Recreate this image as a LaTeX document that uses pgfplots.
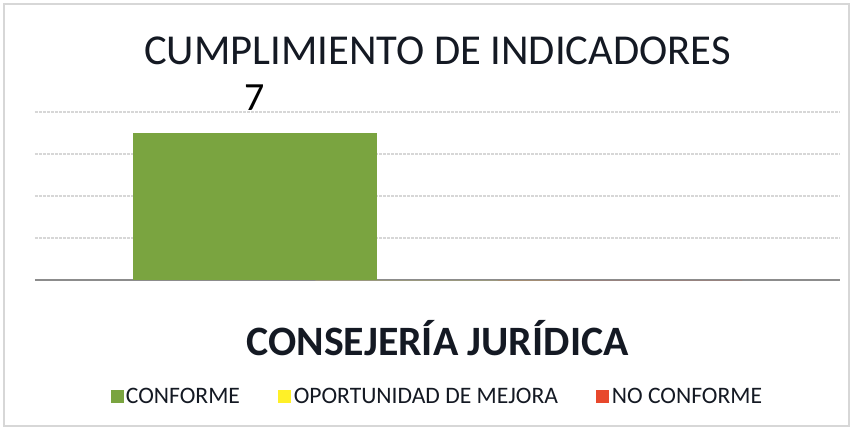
\documentclass[border=0pt]{standalone}
\usepackage{pgfplots}
\pgfplotsset{compat=1.18}
\usepackage{fontspec}
\setmainfont{Carlito}
\definecolor{cgreen}{RGB}{122,164,64}
\definecolor{cyellow}{RGB}{255,240,40}
\definecolor{cred}{RGB}{232,72,44}
\definecolor{cgrid}{RGB}{215,215,215}
\definecolor{cbase}{RGB}{140,140,140}
\definecolor{ctext}{RGB}{20,25,35}
\begin{document}
\begin{tikzpicture}
\useasboundingbox (0,0) rectangle (426pt,215pt);
\draw[cgrid, line width=0.6pt] (2pt,2pt) rectangle (424.5pt,213pt);
\begin{axis}[
  at={(17.5pt,75pt)}, anchor=south west,
  scale only axis, width=402.5pt, height=84pt,
  xmin=-0.5, xmax=0.5, ymin=0, ymax=8,
  ybar, bar width=122pt,
  /pgf/number format/assume math mode=true,
  ytick={0,2,4,6,8}, yticklabels={},
  xtick=\empty,
  ymajorgrids, grid style={cgrid, line width=0.6pt, dash pattern=on 1.5pt off 0.5pt},
  extra y ticks={0}, extra y tick labels={},
  extra y tick style={grid style={cbase, line width=1.2pt, solid}},
  axis line style={draw=none}, tick style={draw=none},
  title={CUMPLIMIENTO DE INDICADORES},
  title style={at={(axis description cs:0.5,1.295)}, anchor=center, font=\fontsize{21.3}{25}\selectfont, text=ctext},
  xlabel={CONSEJERÍA JURÍDICA},
  xlabel style={at={(axis description cs:0.5,-0.345)}, anchor=center, font=\fontsize{20.9}{24}\selectfont\bfseries, text=ctext},
  legend columns=3,
  legend style={at={(axis description cs:0.5,-0.696)}, anchor=center, draw=none, fill=none,
    font=\fontsize{11.8}{14}\selectfont, text=ctext,
    /tikz/column 2/.style={column sep=18pt},
    /tikz/column 4/.style={column sep=18pt},
    nodes={inner sep=1.2pt}},
  clip=false,
]
\addplot[draw=none, fill=cgreen, bar shift=-91.25pt,
  nodes near coords, every node near coord/.append style={font=\fontsize{20}{24}\selectfont, text=black, yshift=7.5pt},
  legend image code/.code={\fill[cgreen] (0pt,-3.25pt) rectangle (6.5pt,3.25pt);}]
  coordinates {(0,7)};
\addlegendentry{CONFORME}
\addplot[draw=none, fill=cyellow, bar shift=0pt,
  legend image code/.code={\fill[cyellow] (0pt,-3.25pt) rectangle (6.5pt,3.25pt);}]
  coordinates {(0,0)};
\addlegendentry{OPORTUNIDAD DE MEJORA}
\addplot[draw=none, fill=cred, bar shift=91.25pt,
  legend image code/.code={\fill[cred] (0pt,-3.25pt) rectangle (6.5pt,3.25pt);}]
  coordinates {(0,0)};
\addlegendentry{NO CONFORME}
\end{axis}
\end{tikzpicture}
\end{document}
